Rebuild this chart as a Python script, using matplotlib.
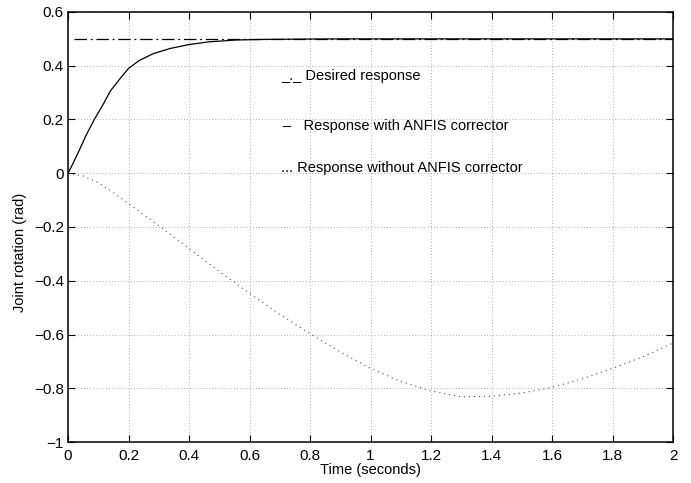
import matplotlib
matplotlib.use("Agg")
import matplotlib.pyplot as plt
import numpy as np

plt.rcParams['font.family'] = ['Liberation Sans', 'DejaVu Sans']

# desired response (constant reference)
t_desired = [0.02, 2.0]
y_desired = [0.5, 0.5]

# response with ANFIS corrector
t_with = [0, 0.0154, 0.0375, 0.0595, 0.087, 0.1146, 0.14, 0.172, 0.2, 0.236, 0.282,
          0.337, 0.4, 0.466, 0.559, 0.65, 0.75, 0.9, 1.2, 1.6, 2.0]
y_with = [0, 0.034, 0.086, 0.141, 0.2, 0.253, 0.306, 0.352, 0.39, 0.42, 0.445,
          0.464, 0.479, 0.489, 0.496, 0.498, 0.499, 0.5, 0.5, 0.5, 0.5]

# response without ANFIS corrector
t_without = [0, 0.05, 0.1, 0.15, 0.2, 0.3, 0.4, 0.5, 0.6, 0.7, 0.8, 0.9, 1.0, 1.1,
             1.2, 1.3, 1.4, 1.5, 1.6, 1.7, 1.8, 1.9, 2.0]
y_without = [0, -0.01, -0.035, -0.072, -0.113, -0.195, -0.28, -0.365, -0.447, -0.525,
             -0.597, -0.665, -0.726, -0.775, -0.81, -0.832, -0.83, -0.818, -0.797,
             -0.765, -0.726, -0.683, -0.632]

xticks = [0, 0.2, 0.4, 0.6, 0.8, 1, 1.2, 1.4, 1.6, 1.8, 2]
yticks = [-1, -0.8, -0.6, -0.4, -0.2, 0, 0.2, 0.4, 0.6]

fig = plt.figure(figsize=(6.91, 4.83), dpi=100)
ax = fig.add_axes([68/691, 41/483, 605/691, 430/483])

ax.plot(t_desired, y_desired, color='k', lw=0.9, linestyle=(0, (10, 3, 1.5, 3)))
ax.plot(t_with, y_with, color='k', lw=0.9)
ax.plot(t_without, y_without, color='0.3', lw=0.8, linestyle=(0, (1, 3.5)))

ax.set_xlim(0, 2)
ax.set_ylim(-1, 0.6)
ax.set_xticks(xticks)
ax.set_xticklabels(['0', '0.2', '0.4', '0.6', '0.8', '1', '1.2', '1.4', '1.6', '1.8', '2'])
ax.set_yticks(yticks)
ax.set_yticklabels(['\u22121', '\u22120.8', '\u22120.6', '\u22120.4', '\u22120.2', '0', '0.2', '0.4', '0.6'])
ax.tick_params(direction='in', top=True, right=True, length=5, width=0.8, labelsize=11)
ax.tick_params(axis='x', pad=5)
ax.tick_params(axis='y', pad=3)
ax.grid(True, color='k', linestyle=(0, (1, 3.5)), linewidth=0.5, alpha=0.6)
for s in ax.spines.values():
    s.set_linewidth(1.1)

ax.set_xlabel('Time (seconds)', fontsize=10.5, labelpad=0)
ax.set_ylabel('Joint rotation (rad)', fontsize=10.5)
ax.yaxis.set_label_coords(-0.067, 0.44)

ax.text(0.705, 0.361, '_._ Desired response', fontsize=10.5, va='center')
ax.text(0.71, 0.175, '\u2013   Response with ANFIS corrector', fontsize=10.5, va='center')
ax.text(0.705, 0.019, '... Response without ANFIS corrector', fontsize=10.5, va='center')

fig.savefig('out.png', dpi=100)
